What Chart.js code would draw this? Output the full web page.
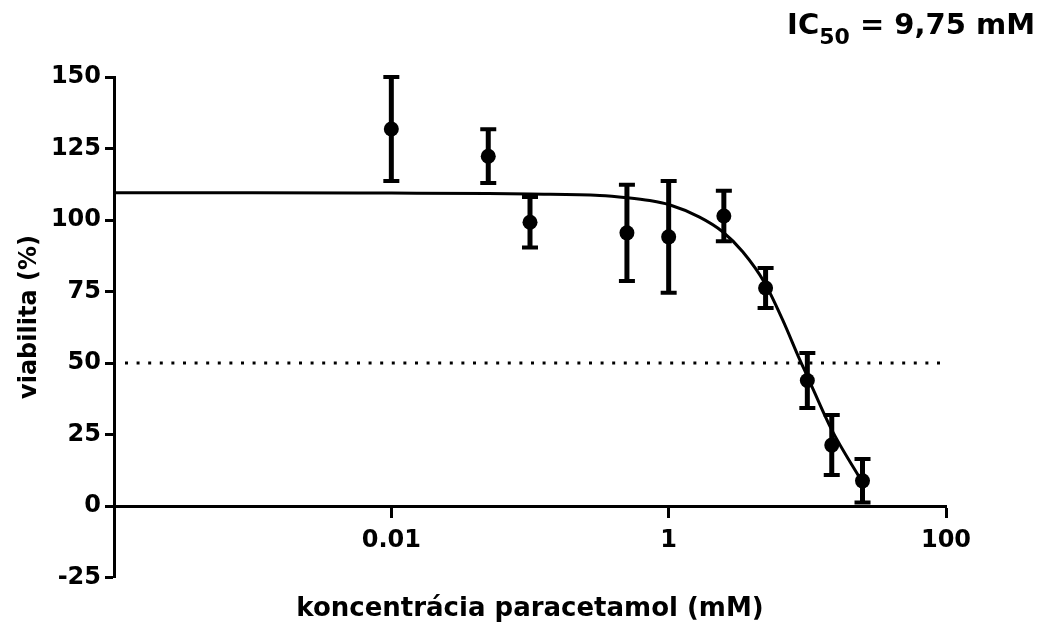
<!DOCTYPE html>
<html><head><meta charset="utf-8">
<script src="https://cdn.jsdelivr.net/npm/chart.js@4"></script>
<style>html,body{margin:0;padding:0;background:#fff;overflow:hidden}canvas{display:block}</style>
</head><body>
<canvas id="c" width="1041" height="627" style="width:1041px;height:627px"></canvas>
<script>
// ---- data ----
const concentrations = [0.01, 0.05, 0.1, 0.5, 1, 2.5, 5, 10, 15, 25];
const viability      = [131.8, 122.3, 99.2, 95.5, 94.1, 101.4, 76.2, 43.9, 21.3, 8.8];
const viabilitySD    = [18.2, 9.4, 8.8, 16.8, 19.5, 8.8, 7.0, 9.6, 10.5, 7.6];
const fitX = [0.0001, 0.001, 0.01, 0.05, 0.1, 0.318, 0.5, 0.73, 1, 1.67, 2.45, 3.42, 4.93, 6.65, 8.83, 9.91, 15.0, 24.8];
const fitY = [109.5, 109.5, 109.4, 109.3, 109.1, 108.6, 107.8, 106.8, 105.4, 101.0, 95.9, 88.9, 78.0, 65.0, 51.1, 45.8, 26.6, 8.5];
const refLineX = [0.00012, 100];
const refLineY = [50, 50];
const xTicks = [0.01, 1, 100];
const yTicks = [-25, 0, 25, 50, 75, 100, 125, 150];
const xTitle = 'koncentrácia paracetamol (mM)';
const yTitle = 'viabilita (%)';
const icMain = 'IC', icSub = '50', icRest = ' = 9,75 mM';

const FONT = '"DejaVu Sans", "Liberation Sans", sans-serif';

const errorBars = {
  id: 'errorBars',
  afterDatasetsDraw(chart) {
    const {ctx, scales: {x, y}} = chart;
    ctx.save();
    ctx.strokeStyle = '#000';
    concentrations.forEach((c, i) => {
      const px = x.getPixelForValue(c);
      const top = y.getPixelForValue(viability[i] + viabilitySD[i]);
      const bot = y.getPixelForValue(viability[i] - viabilitySD[i]);
      ctx.lineWidth = 5;
      ctx.beginPath(); ctx.moveTo(px, top); ctx.lineTo(px, bot); ctx.stroke();
      ctx.lineWidth = 4;
      ctx.beginPath();
      ctx.moveTo(px - 8, top); ctx.lineTo(px + 8, top);
      ctx.moveTo(px - 8, bot); ctx.lineTo(px + 8, bot);
      ctx.stroke();
    });
    ctx.restore();
  }
};

const extraText = {
  id: 'extraText',
  afterDraw(chart) {
    const {ctx} = chart;
    ctx.save();
    ctx.fillStyle = '#000';
    // y-axis title
    ctx.translate(30, 317);
    ctx.rotate(-Math.PI / 2);
    ctx.font = `bold 24px ${FONT}`;
    ctx.textAlign = 'center';
    ctx.textBaseline = 'middle';
    ctx.fillText(yTitle, 0, 0);
    ctx.restore();
    // IC50 label
    ctx.save();
    ctx.fillStyle = '#000';
    ctx.textBaseline = 'alphabetic';
    ctx.textAlign = 'left';
    const big = `bold 29px ${FONT}`, small = `bold 22px ${FONT}`;
    ctx.font = big; const w1 = ctx.measureText(icMain).width; const w3 = ctx.measureText(icRest).width;
    ctx.font = small; const w2 = ctx.measureText(icSub).width;
    let x0 = 1035 - (w1 + w2 + w3);
    ctx.font = big; ctx.fillText(icMain, x0, 34);
    ctx.font = small; ctx.fillText(icSub, x0 + w1, 44);
    ctx.font = big; ctx.fillText(icRest, x0 + w1 + w2, 34);
    ctx.restore();
  }
};

new Chart(document.getElementById('c'), {
  type: 'scatter',
  data: {
    datasets: [
      {
        data: fitX.map((v, i) => ({x: v, y: fitY[i]})),
        showLine: true, borderColor: '#000', borderWidth: 3, pointRadius: 0,
        cubicInterpolationMode: 'monotone', fill: false
      },
      {
        data: refLineX.map((v, i) => ({x: v, y: refLineY[i]})),
        showLine: true, borderColor: '#000', borderWidth: 3, pointRadius: 0,
        borderDash: [3, 8.6], fill: false
      },
      {
        data: concentrations.map((v, i) => ({x: v, y: viability[i]})),
        showLine: false, pointRadius: 7.5, pointBackgroundColor: '#000',
        pointBorderWidth: 0, backgroundColor: '#000', borderColor: '#000'
      }
    ]
  },
  options: {
    responsive: false,
    animation: false,
    layout: {padding: {left: 0, right: 95, top: 77, bottom: 0}},
    plugins: {
      legend: {display: false},
      tooltip: {enabled: false},
      title: {
        display: true, text: xTitle, position: 'bottom', fullSize: false,
        color: '#000', font: {family: FONT, size: 26, weight: 'bold'},
        padding: {top: 15.9, bottom: 2.4}
      }
    },
    scales: {
      x: {
        type: 'logarithmic',
        position: {y: 0},
        min: 0.0001, max: 100,
        afterBuildTicks: (s) => { s.ticks = xTicks.map(v => ({value: v, major: true})); },
        afterFit: (s) => { s.height = 0; },
        border: {display: true, color: '#000', width: 3},
        grid: {display: true, drawOnChartArea: false, drawTicks: true, tickLength: 10, tickWidth: 3, tickColor: '#000', color: '#000'},
        ticks: {
          autoSkip: false, maxRotation: 0, padding: 10, color: '#000',
          font: {family: FONT, size: 24, weight: 'bold'},
          callback: (v) => String(v)
        }
      },
      y: {
        type: 'linear',
        position: 'left',
        min: -25, max: 150,
        afterBuildTicks: (s) => { s.ticks = yTicks.map(v => ({value: v})); },
        afterFit: (s) => { s.width = 114; },
        border: {display: true, color: '#000', width: 3},
        grid: {display: true, drawOnChartArea: false, drawTicks: true, tickLength: 9, tickWidth: 3, tickColor: '#000', color: '#000'},
        ticks: {
          autoSkip: false, padding: 4, color: '#000',
          font: {family: FONT, size: 24, weight: 'bold'}
        }
      }
    }
  },
  plugins: [errorBars, extraText]
});
</script>
</body></html>
